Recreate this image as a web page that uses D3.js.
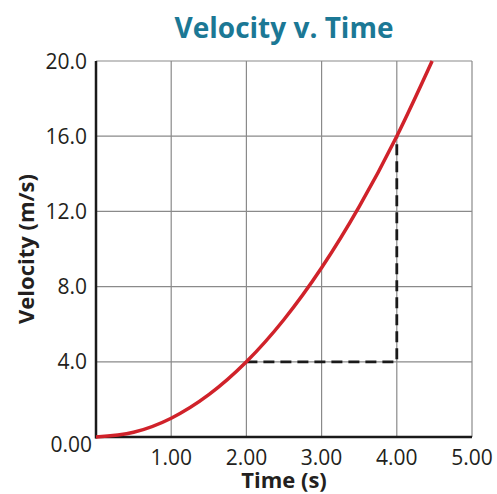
<!DOCTYPE html>
<html>
<head>
<meta charset="utf-8">
<script src="https://cdn.jsdelivr.net/npm/d3@7"></script>
<style>
  html, body { margin: 0; padding: 0; background: #fff; }
  svg { display: block; }
  text { font-family: "Open Sans", Lato, sans-serif; }
</style>
</head>
<body>
<svg id="chart" width="497" height="494"></svg>
<script>
// Velocity readings over time
const timeValues = [0, 0.5, 1, 1.5, 2, 2.5, 3, 3.5, 4, 4.47];
const velocityValues = [0, 0.25, 1, 2.25, 4, 6.25, 9, 12.25, 16, 20];

// Tick labels
const xTicks = [1, 2, 3, 4, 5];
const xTickLabels = ["1.00", "2.00", "3.00", "4.00", "5.00"];
const yTicks = [4, 8, 12, 16, 20];
const yTickLabels = ["4.0", "8.0", "12.0", "16.0", "20.0"];

// Slope triangle corners (time, velocity)
const triangleTime = [2, 4, 4];
const triangleVelocity = [4, 4, 16];

const svg = d3.select("#chart");
const margin = { left: 96, right: 25, top: 61, bottom: 57 };
const W = 497, H = 494;

const x = d3.scaleLinear().domain([0, 5]).range([margin.left, W - margin.right]);
const y = d3.scaleLinear().domain([0, 20]).range([H - margin.bottom, margin.top]);

// Title
svg.append("text")
  .attr("x", (x(0) + x(5)) / 2).attr("y", 38)
  .attr("text-anchor", "middle")
  .attr("font-size", 28).attr("font-weight", 700)
  .attr("fill", "#1b7895")
  .text("Velocity v. Time");

// Grid
const grid = svg.append("g").attr("stroke", "#8a8a8a").attr("stroke-width", 1.2);
grid.selectAll("line.v").data(xTicks).join("line")
  .attr("x1", d => x(d)).attr("x2", d => x(d))
  .attr("y1", y(0)).attr("y2", y(20));
grid.selectAll("line.h").data(yTicks).join("line")
  .attr("x1", x(0)).attr("x2", x(5))
  .attr("y1", d => y(d)).attr("y2", d => y(d));

// Axes lines
svg.append("line").attr("x1", x(0)).attr("x2", x(0)).attr("y1", y(20)).attr("y2", y(0) + 1.5)
  .attr("stroke", "#1a1a1a").attr("stroke-width", 2.5);
svg.append("line").attr("x1", x(0) - 1).attr("x2", x(5)).attr("y1", y(0)).attr("y2", y(0))
  .attr("stroke", "#1a1a1a").attr("stroke-width", 2.5);

// Slope triangle
const tri = triangleTime.map((t, i) => [t, triangleVelocity[i]]);
svg.append("path")
  .datum(tri)
  .attr("d", d3.line().x(d => x(d[0])).y(d => y(d[1])))
  .attr("fill", "none")
  .attr("stroke", "#1a1a1a").attr("stroke-width", 2.8)
  .attr("stroke-dasharray", "11,6");

// Velocity curve
const pts = timeValues.map((t, i) => [t, velocityValues[i]]);
svg.append("path")
  .datum(pts)
  .attr("d", d3.line().x(d => x(d[0])).y(d => y(d[1])).curve(d3.curveMonotoneX))
  .attr("fill", "none")
  .attr("stroke", "#d0222a").attr("stroke-width", 3.5)
  .attr("stroke-linecap", "butt");

// Y tick labels
svg.selectAll("text.ytick").data(yTicks).join("text")
  .attr("class", "ytick")
  .attr("x", x(0) - 9).attr("y", d => y(d) + 7.5)
  .attr("text-anchor", "end")
  .attr("font-size", 21).attr("fill", "#231f20")
  .text((d, i) => yTickLabels[i]);
svg.append("text")
  .attr("x", x(0) - 4).attr("y", y(0) + 15)
  .attr("text-anchor", "end")
  .attr("font-size", 21).attr("fill", "#231f20")
  .text("0.00");

// X tick labels
svg.selectAll("text.xtick").data(xTicks).join("text")
  .attr("class", "xtick")
  .attr("x", d => x(d)).attr("y", y(0) + 28)
  .attr("text-anchor", "middle")
  .attr("font-size", 21).attr("fill", "#231f20")
  .text((d, i) => xTickLabels[i]);

// Axis titles
svg.append("text")
  .attr("x", (x(0) + x(5)) / 2).attr("y", 488)
  .attr("text-anchor", "middle")
  .attr("font-size", 22).attr("font-weight", 700).attr("fill", "#231f20")
  .text("Time (s)");
svg.append("text")
  .attr("transform", `translate(34,${(y(0) + y(20)) / 2}) rotate(-90)`)
  .attr("text-anchor", "middle")
  .attr("font-size", 22).attr("font-weight", 700).attr("fill", "#231f20")
  .text("Velocity (m/s)");
</script>
</body>
</html>
